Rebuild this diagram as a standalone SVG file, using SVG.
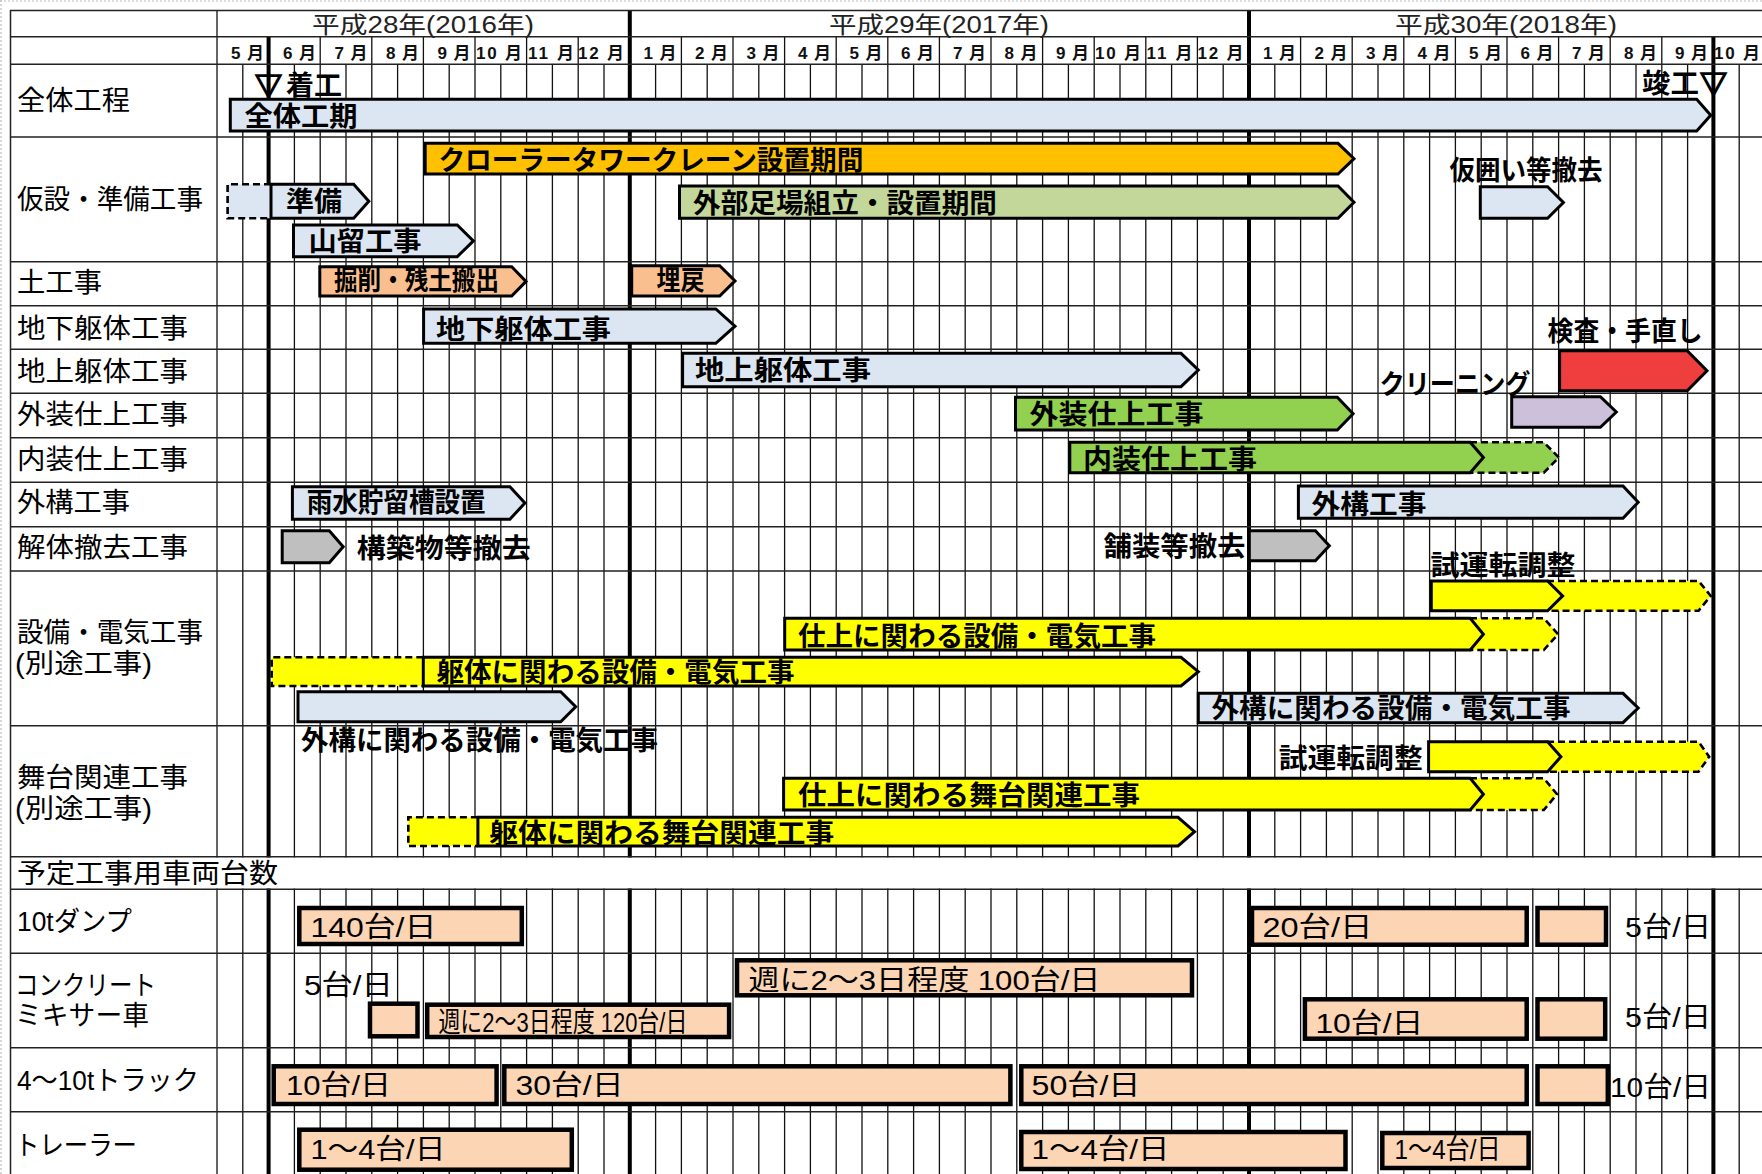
<svg xmlns="http://www.w3.org/2000/svg" width="1762" height="1174" viewBox="0 0 1762 1174">
<style>
.grid{stroke:#111;stroke-width:1.3;fill:none}
.hl{stroke:#222;stroke-width:1.5;fill:none}
.thick{stroke:#000;stroke-width:4;fill:none}
.edge{stroke:#bbb;stroke-width:1.2;stroke-dasharray:2 2;fill:none}
.bar{stroke:#000;stroke-width:3;stroke-linejoin:miter}
.dash{stroke:#000;stroke-width:2.6;stroke-dasharray:7 4}
.box{stroke:#000;stroke-width:4.5;fill:#FCD5B4}
.blue{fill:#DCE6F2}.orange{fill:#FFC000}.lgreen{fill:#C4D79B}.peach{fill:#FABF8F}
.green{fill:#92D050}.lav{fill:#CCC0DA}.red{fill:#EF3E3E}.grey{fill:#BFBFBF}.yel{fill:#FFFF00}
text{font-family:"Liberation Sans","Noto Sans CJK JP",sans-serif;fill:#000}
.lbl{font-size:27px}
.bt{font-size:27px;font-weight:bold}
.vt{font-size:28px}
.yr{font-size:23px;fill:#222}
.mo{font-size:17px;font-weight:bold;text-anchor:end;fill:#111}
.tri{font-family:"Noto Sans CJK JP",sans-serif;font-size:27px;font-weight:bold;text-anchor:middle;stroke:#000;stroke-width:1.6}
</style>

<g id="grid">
<path class="edge" d="M0 1H1762M1 0V1174"/>
<path class="grid" d="M242.8 64.3V1174M268.6 36.7V1174M294.4 64.3V1174M320.2 36.7V1174M346 64.3V1174M371.8 36.7V1174M397.6 64.3V1174M423.4 36.7V1174M449.2 64.3V1174M475 36.7V1174M500.8 64.3V1174M526.6 36.7V1174M552.4 64.3V1174M578.2 36.7V1174M604 64.3V1174M629.8 10V1174M655.6 64.3V1174M681.4 36.7V1174M707.2 64.3V1174M733 36.7V1174M758.8 64.3V1174M784.6 36.7V1174M810.4 64.3V1174M836.2 36.7V1174M862 64.3V1174M887.8 36.7V1174M913.6 64.3V1174M939.4 36.7V1174M965.2 64.3V1174M991 36.7V1174M1016.8 64.3V1174M1042.6 36.7V1174M1068.4 64.3V1174M1094.2 36.7V1174M1120 64.3V1174M1145.8 36.7V1174M1171.6 64.3V1174M1197.4 36.7V1174M1223.2 64.3V1174M1249 10V1174M1274.8 64.3V1174M1300.6 36.7V1174M1326.4 64.3V1174M1352.2 36.7V1174M1378 64.3V1174M1403.8 36.7V1174M1429.6 64.3V1174M1455.4 36.7V1174M1481.2 64.3V1174M1507 36.7V1174M1532.8 64.3V1174M1558.6 36.7V1174M1584.4 64.3V1174M1610.2 36.7V1174M1636 64.3V1174M1661.8 36.7V1174M1687.6 64.3V1174M1713.4 36.7V1174M1739.2 64.3V1174"/>
<path class="grid" d="M217 10V1174"/>
<path class="thick" d="M268.6 36.7V1174M629.8 10V1174M1249 10V1174M1713.4 36.7V1174"/>
<rect x="11.5" y="857.5" width="1751" height="31" fill="#fff"/>
<path class="hl" d="M10 10.5H1762M10 36.7H1762M10 64.3H1762M10 137H1762M10 261.7H1762M10 305.7H1762M10 349.3H1762M10 393.3H1762M10 437.7H1762M10 482.3H1762M10 526.7H1762M10 571H1762M10 725.7H1762M10 856.7H1762M10 889.3H1762M10 953.3H1762M10 1047.7H1762M10 1111.7H1762"/>
<path class="hl" d="M10.5 10V1174"/>
</g>

<g id="header">
<text class="yr" x="312" y="33" textLength="222" lengthAdjust="spacingAndGlyphs">平成28年(2016年)</text>
<text class="yr" x="829" y="33" textLength="220" lengthAdjust="spacingAndGlyphs">平成29年(2017年)</text>
<text class="yr" x="1395" y="33" textLength="222" lengthAdjust="spacingAndGlyphs">平成30年(2018年)</text>
<text class="mo" x="264" y="59" textLength="33">5 月</text>
<text class="mo" x="316" y="59" textLength="33">6 月</text>
<text class="mo" x="367.5" y="59" textLength="33">7 月</text>
<text class="mo" x="419" y="59" textLength="33">8 月</text>
<text class="mo" x="470.5" y="59" textLength="33">9 月</text>
<text class="mo" x="522" y="59" textLength="46">10 月</text>
<text class="mo" x="574" y="59" textLength="46">11 月</text>
<text class="mo" x="624" y="59" textLength="46">12 月</text>
<text class="mo" x="676.5" y="59" textLength="33">1 月</text>
<text class="mo" x="728" y="59" textLength="33">2 月</text>
<text class="mo" x="779.5" y="59" textLength="33">3 月</text>
<text class="mo" x="831" y="59" textLength="33">4 月</text>
<text class="mo" x="882.5" y="59" textLength="33">5 月</text>
<text class="mo" x="934" y="59" textLength="33">6 月</text>
<text class="mo" x="986" y="59" textLength="33">7 月</text>
<text class="mo" x="1037.5" y="59" textLength="33">8 月</text>
<text class="mo" x="1089" y="59" textLength="33">9 月</text>
<text class="mo" x="1141" y="59" textLength="46">10 月</text>
<text class="mo" x="1192.5" y="59" textLength="46">11 月</text>
<text class="mo" x="1243.5" y="59" textLength="46">12 月</text>
<text class="mo" x="1296" y="59" textLength="33">1 月</text>
<text class="mo" x="1347.5" y="59" textLength="33">2 月</text>
<text class="mo" x="1399" y="59" textLength="33">3 月</text>
<text class="mo" x="1450.5" y="59" textLength="33">4 月</text>
<text class="mo" x="1502" y="59" textLength="33">5 月</text>
<text class="mo" x="1553.5" y="59" textLength="33">6 月</text>
<text class="mo" x="1605" y="59" textLength="33">7 月</text>
<text class="mo" x="1657" y="59" textLength="33">8 月</text>
<text class="mo" x="1708" y="59" textLength="33">9 月</text>
<text class="mo" x="1760" y="59" textLength="46">10 月</text>
</g>

<g id="row-labels">
<text class="lbl" x="17" y="110" textLength="113" lengthAdjust="spacingAndGlyphs">全体工程</text>
<text class="lbl" x="17" y="209" textLength="186" lengthAdjust="spacingAndGlyphs">仮設・準備工事</text>
<text class="lbl" x="17" y="292" textLength="85" lengthAdjust="spacingAndGlyphs">土工事</text>
<text class="lbl" x="17" y="338" textLength="171" lengthAdjust="spacingAndGlyphs">地下躯体工事</text>
<text class="lbl" x="17" y="381" textLength="171" lengthAdjust="spacingAndGlyphs">地上躯体工事</text>
<text class="lbl" x="17" y="424" textLength="171" lengthAdjust="spacingAndGlyphs">外装仕上工事</text>
<text class="lbl" x="17" y="469" textLength="171" lengthAdjust="spacingAndGlyphs">内装仕上工事</text>
<text class="lbl" x="17" y="512" textLength="113" lengthAdjust="spacingAndGlyphs">外構工事</text>
<text class="lbl" x="17" y="557" textLength="171" lengthAdjust="spacingAndGlyphs">解体撤去工事</text>
<text class="lbl" x="17" y="642" textLength="186" lengthAdjust="spacingAndGlyphs">設備・電気工事</text>
<text class="lbl" x="15" y="673" textLength="137" lengthAdjust="spacingAndGlyphs">(別途工事)</text>
<text class="lbl" x="17" y="787" textLength="171" lengthAdjust="spacingAndGlyphs">舞台関連工事</text>
<text class="lbl" x="15" y="818" textLength="137" lengthAdjust="spacingAndGlyphs">(別途工事)</text>
<text class="lbl" x="17" y="883" textLength="261" lengthAdjust="spacingAndGlyphs">予定工事用車両台数</text>
<text class="lbl" x="17" y="931" textLength="115" lengthAdjust="spacingAndGlyphs">10tダンプ</text>
<text class="lbl" x="15" y="995" textLength="141" lengthAdjust="spacingAndGlyphs">コンクリート</text>
<text class="lbl" x="15" y="1025" textLength="134" lengthAdjust="spacingAndGlyphs">ミキサー車</text>
<text class="lbl" x="17" y="1090" textLength="182" lengthAdjust="spacingAndGlyphs">4～10tトラック</text>
<text class="lbl" x="15" y="1155" textLength="122" lengthAdjust="spacingAndGlyphs">トレーラー</text>
</g>

<g id="milestones">
<text class="tri" x="268.6" y="96">▽</text>
<text class="bt" x="286" y="95" textLength="56" lengthAdjust="spacingAndGlyphs">着工</text>
<text class="bt" x="1642" y="93" textLength="57" lengthAdjust="spacingAndGlyphs">竣工</text>
<text class="tri" x="1713.4" y="94">▽</text>
</g>

<g id="zentai-koki">
<path class="bar blue" d="M230.3 99.3H1696.7L1710.7 115.2L1696.7 131H230.3Z"/>
<text class="bt" x="244.6" y="126" font-size="28" textLength="113" lengthAdjust="spacingAndGlyphs">全体工期</text>
</g>
<g id="crane">
<path class="bar orange" d="M425.2 143.3H1338L1354 158.7L1338 174H425.2Z"/>
<text class="bt" x="438.4" y="170" font-size="26" textLength="425" lengthAdjust="spacingAndGlyphs">クローラータワークレーン設置期間</text>
</g>
<g id="ashiba">
<path class="bar lgreen" d="M679.5 186H1338L1354 202.2L1338 218.3H679.5Z"/>
<text class="bt" x="693" y="213" textLength="304" lengthAdjust="spacingAndGlyphs">外部足場組立・設置期間</text>
</g>
<g id="karigakoi">
<path class="bar blue" d="M1480.3 186.7H1547.6L1563.4 202.5L1547.6 218.3H1480.3Z"/>
<text class="bt" x="1449.4" y="180" font-size="26" textLength="153" lengthAdjust="spacingAndGlyphs">仮囲い等撤去</text>
</g>
<g id="junbi">
<path class="dash blue" d="M271 184.3H227.6V218.3H271"/>
<path class="bar blue" d="M271 184.3H353.7L368.8 201.3L353.7 218.3H271Z"/>
<text class="bt" x="286" y="211" textLength="56" lengthAdjust="spacingAndGlyphs">準備</text>
</g>
<g id="yamadome">
<path class="bar blue" d="M293.5 225H457.2L473.4 240.9L457.2 256.7H293.5Z"/>
<text class="bt" x="308.5" y="251" textLength="113" lengthAdjust="spacingAndGlyphs">山留工事</text>
</g>
<g id="kussaku">
<path class="bar peach" d="M319.8 266.7H511.7L526 281.4L511.7 296H319.8Z"/>
<text class="bt" x="334" y="290" font-size="24" textLength="165" lengthAdjust="spacingAndGlyphs">掘削・残土搬出</text>
</g>
<g id="umemodoshi">
<path class="bar peach" d="M631.7 265.7H719.7L735 280.9L719.7 296H631.7Z"/>
<text class="bt" x="656.5" y="290" font-size="24" textLength="48" lengthAdjust="spacingAndGlyphs">埋戻</text>
</g>
<g id="chika-kutai">
<path class="bar blue" d="M423.6 309H715.8L735 326.2L715.8 343.3H423.6Z"/>
<text class="bt" x="436" y="339" textLength="175" lengthAdjust="spacingAndGlyphs">地下躯体工事</text>
</g>
<g id="chijo-kutai">
<path class="bar blue" d="M682.6 353.3H1181L1198.3 370L1181 386.7H682.6Z"/>
<text class="bt" x="695" y="380" textLength="176" lengthAdjust="spacingAndGlyphs">地上躯体工事</text>
</g>
<g id="gaiso">
<path class="bar green" d="M1015.5 397.3H1337.3L1353.1 413.7L1337.3 430H1015.5Z"/>
<text class="bt" x="1029.6" y="424" textLength="174" lengthAdjust="spacingAndGlyphs">外装仕上工事</text>
</g>
<g id="naiso">
<path class="dash green" d="M1470 442.3H1543.8L1558.9 457.5L1543.8 472.7H1470"/>
<path class="bar green" d="M1069.8 442.3H1470.2L1483.4 457.5L1470.2 472.7H1069.8Z"/>
<text class="bt" x="1083" y="469" textLength="174" lengthAdjust="spacingAndGlyphs">内装仕上工事</text>
</g>
<g id="cleaning">
<path class="bar lav" d="M1511.7 396.7H1600.4L1616.3 412L1600.4 427.3H1511.7Z"/>
<text class="bt" x="1379.5" y="394" font-size="25" textLength="151" lengthAdjust="spacingAndGlyphs">クリーニング</text>
</g>
<g id="kensa">
<path class="bar red" d="M1559.6 350.7H1687.2L1707 370.7L1687.2 390.7H1559.6Z"/>
<text class="bt" x="1547.6" y="341" textLength="155" lengthAdjust="spacingAndGlyphs">検査・手直し</text>
</g>
<g id="usui">
<path class="bar blue" d="M292.4 486.7H509.9L524.9 503L509.9 519.3H292.4Z"/>
<text class="bt" x="306.7" y="512" font-size="24" textLength="179" lengthAdjust="spacingAndGlyphs">雨水貯留槽設置</text>
</g>
<g id="gaiko">
<path class="bar blue" d="M1298.4 486H1623L1638.2 502.2L1623 518.3H1298.4Z"/>
<text class="bt" x="1311.6" y="514" textLength="115" lengthAdjust="spacingAndGlyphs">外構工事</text>
</g>
<g id="kochiku-tekkyo">
<path class="bar grey" d="M282.2 530.7H329.3L343.2 546.7L329.3 562.7H282.2Z"/>
<text class="bt" x="356.7" y="558" textLength="174" lengthAdjust="spacingAndGlyphs">構築物等撤去</text>
</g>
<g id="hoso-tekkyo">
<path class="bar grey" d="M1249.3 530.7H1315.4L1329.3 545.7L1315.4 560.7H1249.3Z"/>
<text class="bt" x="1103.5" y="556" textLength="142" lengthAdjust="spacingAndGlyphs">舗装等撤去</text>
</g>
<g id="setsubi-shiunten">
<path class="dash yel" d="M1547 581H1698.6L1710.7 595.9L1698.6 610.7H1547"/>
<path class="bar yel" d="M1431.3 581H1547.6L1562.6 595.9L1547.6 610.7H1431.3Z"/>
<text class="bt" x="1430.5" y="575" textLength="145" lengthAdjust="spacingAndGlyphs">試運転調整</text>
</g>
<g id="setsubi-shiage">
<path class="dash yel" d="M1470 618.3H1543.8L1558.1 634.2L1543.8 650H1470"/>
<path class="bar yel" d="M784.7 618.3H1470.2L1483.4 634.2L1470.2 650H784.7Z"/>
<text class="bt" x="798" y="646" textLength="358" lengthAdjust="spacingAndGlyphs">仕上に関わる設備・電気工事</text>
</g>
<g id="setsubi-kutai">
<path class="dash yel" d="M423.3 657.3H271.7V686H423.3"/>
<path class="bar yel" d="M423.3 657.3H1181L1198.3 671.7L1181 686H423.3Z"/>
<text class="bt" x="436.5" y="682" textLength="358" lengthAdjust="spacingAndGlyphs">躯体に関わる設備・電気工事</text>
</g>
<g id="setsubi-gaiko-1">
<path class="bar blue" d="M298 691.7H560.7L575.7 706.7L560.7 721.7H298Z"/>
<text class="bt" x="301" y="750" textLength="357" lengthAdjust="spacingAndGlyphs">外構に関わる設備・電気工事</text>
</g>
<g id="setsubi-gaiko-2">
<path class="bar blue" d="M1198.3 693.3H1623L1638.2 708L1623 722.7H1198.3Z"/>
<text class="bt" x="1211.5" y="718" textLength="359" lengthAdjust="spacingAndGlyphs">外構に関わる設備・電気工事</text>
</g>
<g id="butai-shiunten">
<path class="dash yel" d="M1547 741.7H1698.6L1709.2 756.7L1698.6 771.7H1547"/>
<path class="bar yel" d="M1428.6 741.7H1547.6L1560.9 756.7L1547.6 771.7H1428.6Z"/>
<text class="bt" x="1278.7" y="768" textLength="144" lengthAdjust="spacingAndGlyphs">試運転調整</text>
</g>
<g id="butai-shiage">
<path class="dash yel" d="M1470 778.3H1543.8L1557 794.2L1543.8 810H1470"/>
<path class="bar yel" d="M783.6 778.3H1470.2L1483.4 794.2L1470.2 810H783.6Z"/>
<text class="bt" x="798" y="805" textLength="342" lengthAdjust="spacingAndGlyphs">仕上に関わる舞台関連工事</text>
</g>
<g id="butai-kutai">
<path class="dash yel" d="M477.9 817.3H408.3V846H477.9"/>
<path class="bar yel" d="M477.9 817.3H1178L1194.5 831.7L1178 846H477.9Z"/>
<text class="bt" x="489.2" y="843" textLength="345" lengthAdjust="spacingAndGlyphs">躯体に関わる舞台関連工事</text>
</g>

<g id="dump">
<rect class="box" x="299.3" y="908" width="222.5" height="36"/>
<text class="vt" x="310.4" y="937" textLength="126" lengthAdjust="spacingAndGlyphs">140台/日</text>
<rect class="box" x="1252" y="908" width="274.7" height="36.7"/>
<text class="vt" x="1262.5" y="937" textLength="110" lengthAdjust="spacingAndGlyphs">20台/日</text>
<rect class="box" x="1537.5" y="908" width="68.5" height="36.7"/>
<text class="vt" x="1625" y="937" textLength="86" lengthAdjust="spacingAndGlyphs">5台/日</text>
</g>
<g id="mixer">
<text class="vt" x="304" y="995" textLength="89" lengthAdjust="spacingAndGlyphs">5台/日</text>
<rect class="box" x="370" y="1003.7" width="47.5" height="32.6"/>
<rect class="box" x="427.2" y="1004.7" width="301.9" height="32.3"/>
<text class="vt" x="438.4" y="1032" font-size="23" textLength="249" lengthAdjust="spacingAndGlyphs">週に2～3日程度 120台/日</text>
<rect class="box" x="737" y="960.3" width="455" height="35"/>
<text class="vt" x="748.4" y="990" textLength="352" lengthAdjust="spacingAndGlyphs">週に2～3日程度  100台/日</text>
<rect class="box" x="1304.9" y="999.3" width="221.8" height="39.4"/>
<text class="vt" x="1315.4" y="1033" textLength="108" lengthAdjust="spacingAndGlyphs">10台/日</text>
<rect class="box" x="1537.5" y="999.3" width="67.7" height="39.4"/>
<text class="vt" x="1625" y="1027" textLength="86" lengthAdjust="spacingAndGlyphs">5台/日</text>
</g>
<g id="truck">
<rect class="box" x="273.7" y="1066.3" width="222.9" height="37.7"/>
<text class="vt" x="286" y="1095" textLength="105" lengthAdjust="spacingAndGlyphs">10台/日</text>
<rect class="box" x="504.3" y="1066.3" width="506.1" height="37.7"/>
<text class="vt" x="515.5" y="1095" textLength="108" lengthAdjust="spacingAndGlyphs">30台/日</text>
<rect class="box" x="1021.3" y="1066.3" width="505.4" height="37.7"/>
<text class="vt" x="1031.5" y="1095" textLength="109" lengthAdjust="spacingAndGlyphs">50台/日</text>
<rect class="box" x="1537.5" y="1066.3" width="70.3" height="37.7"/>
<text class="vt" x="1610" y="1097" textLength="101" lengthAdjust="spacingAndGlyphs">10台/日</text>
</g>
<g id="trailer">
<rect class="box" x="299.3" y="1129.7" width="272.5" height="40"/>
<text class="vt" x="310.4" y="1159" textLength="135" lengthAdjust="spacingAndGlyphs">1～4台/日</text>
<rect class="box" x="1021.3" y="1132" width="324.2" height="37"/>
<text class="vt" x="1031.5" y="1159" textLength="138" lengthAdjust="spacingAndGlyphs">1～4台/日</text>
<rect class="box" x="1382.3" y="1133" width="146.3" height="35"/>
<text class="vt" x="1394.6" y="1159" font-size="22" textLength="106" lengthAdjust="spacingAndGlyphs">1～4台/日</text>
</g>
</svg>
